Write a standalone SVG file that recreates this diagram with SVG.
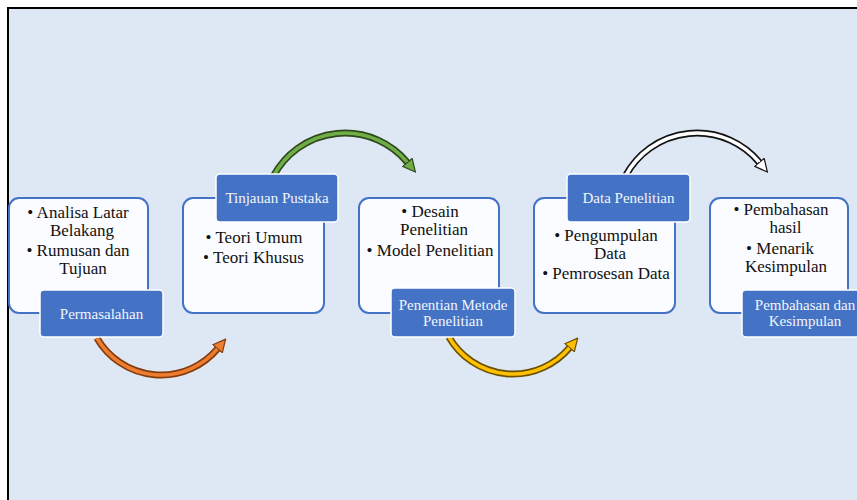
<svg xmlns="http://www.w3.org/2000/svg" width="857" height="500" viewBox="0 0 857 500">
<defs>
<style>
.box{fill:#FAFCFF;stroke:#4472C4;stroke-width:2}
.lab{fill:#4472C4;stroke:#FFFFFF;stroke-width:1.5}
.t{font-family:"Liberation Serif","Times New Roman",serif;font-size:17px;fill:#111;text-anchor:middle}
.lt{font-family:"Liberation Serif","Times New Roman",serif;font-size:15px;fill:#F2F5FB;text-anchor:middle}
.sh{fill:none;stroke-width:7}
.in{fill:none;stroke-width:3.6}
</style>
<marker id="mo" viewBox="0 0 14 14" refX="0.5" refY="7" markerWidth="14" markerHeight="14" markerUnits="userSpaceOnUse" orient="auto"><path d="M0.5,0.8 L13,7 L0.5,13.2 Z" fill="#ED7D31" stroke="#843C0C" stroke-width="1.2"/></marker>
<marker id="mg" viewBox="0 0 14 14" refX="0.5" refY="7" markerWidth="14" markerHeight="14" markerUnits="userSpaceOnUse" orient="auto"><path d="M0.5,0.8 L13,7 L0.5,13.2 Z" fill="#70AD47" stroke="#2E4A1C" stroke-width="1.2"/></marker>
<marker id="my" viewBox="0 0 14 14" refX="0.5" refY="7" markerWidth="14" markerHeight="14" markerUnits="userSpaceOnUse" orient="auto"><path d="M0.5,0.8 L13,7 L0.5,13.2 Z" fill="#FFC000" stroke="#6B5000" stroke-width="1.2"/></marker>
<marker id="mw" viewBox="0 0 14 14" refX="0.5" refY="7" markerWidth="14" markerHeight="14" markerUnits="userSpaceOnUse" orient="auto"><path d="M0.5,0.8 L13,7 L0.5,13.2 Z" fill="#FFFFFF" stroke="#111111" stroke-width="1.2"/></marker>
</defs>
<rect x="0" y="0" width="857" height="500" fill="#FFFFFF"/>
<rect x="8" y="8" width="862" height="500" fill="#DEE8F5" stroke="#000000" stroke-width="2"/>
<g id="connectors">
<path class="sh" stroke="#843C0C" d="M 96.9 338 A 74 74 0 0 0 217.6 348.7"/>
<path class="in" stroke="#ED7D31" d="M 96.9 338 A 74 74 0 0 0 217.6 348.7" marker-end="url(#mo)"/>
<path class="sh" stroke="#2E4A1C" d="M 273.5 176 A 81 81 0 0 1 407.4 162.4"/>
<path class="in" stroke="#70AD47" d="M 273.5 176 A 81 81 0 0 1 407.4 162.4" marker-end="url(#mg)"/>
<path class="sh" stroke="#6B5000" d="M 448.9 337 A 74 74 0 0 0 569.6 347.7"/>
<path class="in" stroke="#FFC000" d="M 448.9 337 A 74 74 0 0 0 569.6 347.7" marker-end="url(#my)"/>
<path class="sh" stroke="#111111" d="M 625.5 176 A 81 81 0 0 1 759.4 162.4"/>
<path class="in" stroke="#FFFFFF" d="M 625.5 176 A 81 81 0 0 1 759.4 162.4" marker-end="url(#mw)"/>
</g>
<g id="node-permasalahan">
<rect class="box" x="9" y="198" width="139" height="115" rx="10"/>
<text class="t" x="78" y="218">• Analisa Latar</text>
<text class="t" x="82" y="236">Belakang</text>
<text class="t" x="78" y="256">• Rumusan dan</text>
<text class="t" x="83" y="274">Tujuan</text>
<rect class="lab" x="40" y="290" width="123" height="47" rx="4"/>
<text class="lt" x="101.5" y="319">Permasalahan</text>
</g>
<g id="node-tinjauan">
<rect class="box" x="183" y="198" width="141" height="115" rx="10"/>
<rect class="lab" x="216" y="174" width="122" height="48" rx="4"/>
<text class="lt" x="277" y="203">Tinjauan Pustaka</text>
<text class="t" x="254" y="243">• Teori Umum</text>
<text class="t" x="253.5" y="263">• Teori Khusus</text>
</g>
<g id="node-metode">
<rect class="box" x="359" y="198" width="140" height="115" rx="10"/>
<text class="t" x="430" y="217">• Desain</text>
<text class="t" x="434" y="235">Penelitian</text>
<text class="t" x="430" y="256">• Model Penelitian</text>
<rect class="lab" x="391" y="288" width="124" height="49" rx="4"/>
<text class="lt" x="453" y="310">Penentian Metode</text>
<text class="lt" x="453" y="326">Penelitian</text>
</g>
<g id="node-data">
<rect class="box" x="534" y="198" width="141" height="115" rx="10"/>
<rect class="lab" x="567" y="174" width="123" height="48" rx="4"/>
<text class="lt" x="628.5" y="203">Data Penelitian</text>
<text class="t" x="606" y="241">• Pengumpulan</text>
<text class="t" x="610" y="259">Data</text>
<text class="t" x="606" y="279">• Pemrosesan Data</text>
</g>
<g id="node-pembahasan">
<rect class="box" x="710" y="198" width="138" height="115" rx="10"/>
<text class="t" x="781" y="215">• Pembahasan</text>
<text class="t" x="785.5" y="233">hasil</text>
<text class="t" x="780" y="254">• Menarik</text>
<text class="t" x="786" y="272">Kesimpulan</text>
<rect class="lab" x="742" y="290" width="125" height="47" rx="4"/>
<text class="lt" x="805" y="310">Pembahasan dan</text>
<text class="lt" x="805" y="326">Kesimpulan</text>
</g>
</svg>
